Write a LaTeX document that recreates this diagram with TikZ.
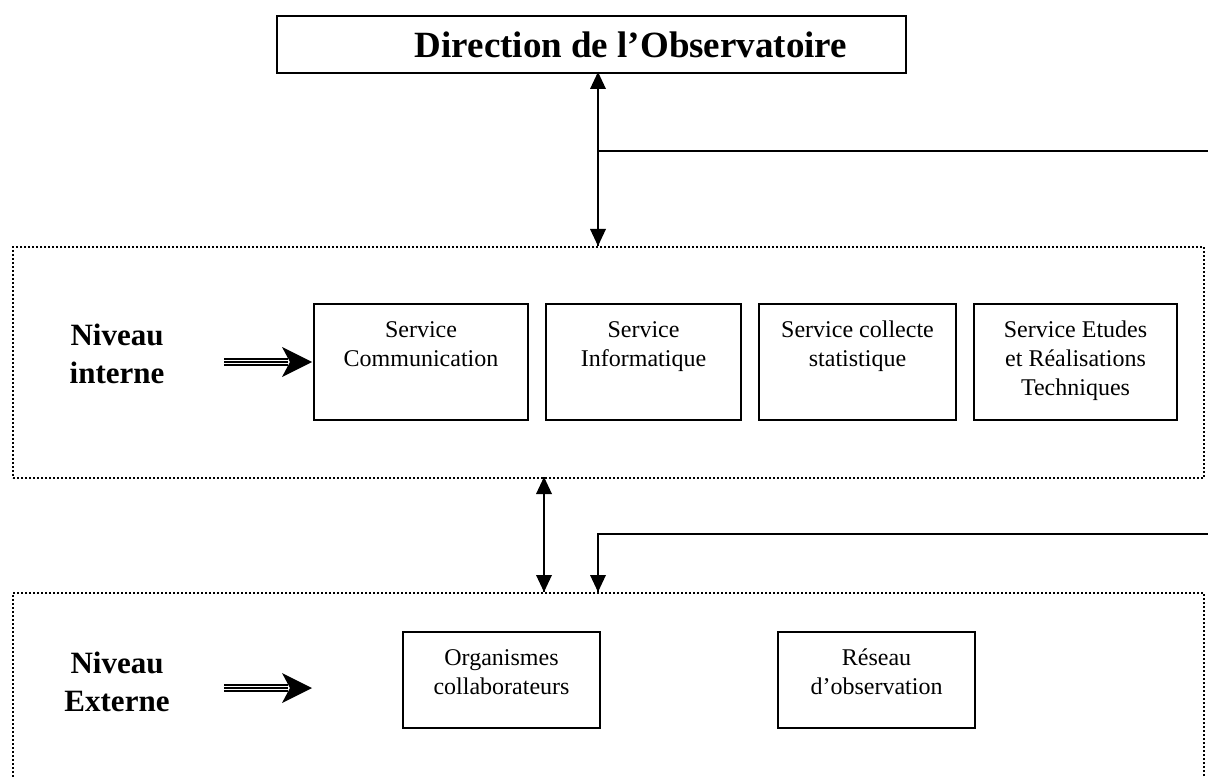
\documentclass[tikz,border=0pt]{standalone}
\usepackage{fontspec}
\setmainfont{Liberation Serif}
\begin{document}
\begin{tikzpicture}[x=1pt,y=-1pt,
  box/.style={draw,line width=2pt,anchor=north west,inner sep=0pt},
  lbl/.style={anchor=north,align=center,font=\fontsize{24}{29}\selectfont,inner sep=0pt},
  lvl/.style={draw,line width=2pt,dash pattern=on 2pt off 2pt,anchor=north west,inner sep=0pt},
  niv/.style={align=center,font=\bfseries\fontsize{31}{38}\selectfont,inner sep=0pt},
  conn/.style={line width=2.3pt},
  tip/.style={fill=black}]
\useasboundingbox (0,0) rectangle (1208,778);
\newcommand{\fl}{\rule{0pt}{20pt}}
% top box
\node[box,minimum width=629pt,minimum height=57pt] (dir) at (276,15) {};
\node[font=\bfseries\fontsize{37}{44}\selectfont,inner sep=0pt] (dirt) at (631,45) {Direction de l'Observatoire};
% level boxes
\node[lvl,minimum width=1191pt,minimum height=231pt] (int) at (12,246) {};
\node[lvl,minimum width=1191pt,minimum height=200pt] (extb) at (12,592) {};
% level labels
\node[niv] (nint) at (117,354) {Niveau\\interne};
\node[niv] (next) at (117,682) {Niveau\\Externe};
% service boxes
\node[box,minimum width=214pt,minimum height=116pt] (s1) at (313,303) {};
\node[box,minimum width=195pt,minimum height=116pt] (s2) at (545,303) {};
\node[box,minimum width=197pt,minimum height=116pt] (s3) at (758,303) {};
\node[box,minimum width=203pt,minimum height=116pt] (s4) at (973,303) {};
\node[lbl] (t1) at ([yshift=-14pt]s1.north) {\fl Service\\Communication};
\node[lbl] (t2) at ([yshift=-14pt]s2.north) {\fl Service\\Informatique};
\node[lbl] (t3) at ([yshift=-14pt]s3.north) {\fl Service collecte\\statistique};
\node[lbl] (t4) at ([yshift=-14pt]s4.north) {\fl Service Etudes\\et Réalisations\\Techniques};
% external boxes
\node[box,minimum width=197pt,minimum height=96pt] (e1) at (402,631) {};
\node[box,minimum width=197pt,minimum height=96pt] (e2) at (777,631) {};
\node[lbl] (u1) at ([yshift=-14pt]e1.north) {\fl Organismes\\collaborateurs};
\node[lbl] (u2) at ([yshift=-14pt]e2.north) {\fl Réseau\\d'observation};
% connectors
\coordinate (a1) at (598,72);
\coordinate (a2) at (598,246);
\coordinate (h1) at (598,151);
\coordinate (h1r) at (1208,151);
\draw[conn] (a1) -- (a2);
\draw[line width=2pt] (h1) -- (h1r);
\fill[tip] (a1) -- ++(-8,17) -- ++(16,0) -- cycle;
\fill[tip] (a2) -- ++(-8,-17) -- ++(16,0) -- cycle;
\coordinate (b1) at (544,477);
\coordinate (b2) at (544,592);
\draw[conn] (b1) -- (b2);
\fill[tip] (b1) -- ++(-8,17) -- ++(16,0) -- cycle;
\fill[tip] (b2) -- ++(-8,-17) -- ++(16,0) -- cycle;
\coordinate (c0) at (1208,534);
\coordinate (c1) at (598,534);
\coordinate (c2) at (598,592);
\draw[line width=2pt] (c0) -- (c1) -- (c2);
\fill[tip] (c2) -- ++(-8,-17) -- ++(16,0) -- cycle;
% triple arrows
\foreach \yy/\nm in {362/ti,688/te}{
  \coordinate (\nm s) at (224,\yy);
  \coordinate (\nm e) at (312,\yy);
  \foreach \d in {-3.2,0,3.2} \draw[line width=1.7pt] ([yshift=\d pt]\nm s) -- ++(64,0);
  \fill[tip] (\nm e) -- ++(-30,-15) -- ++(8,15) -- ++(-8,15) -- cycle;
}
\end{tikzpicture}
\end{document}
